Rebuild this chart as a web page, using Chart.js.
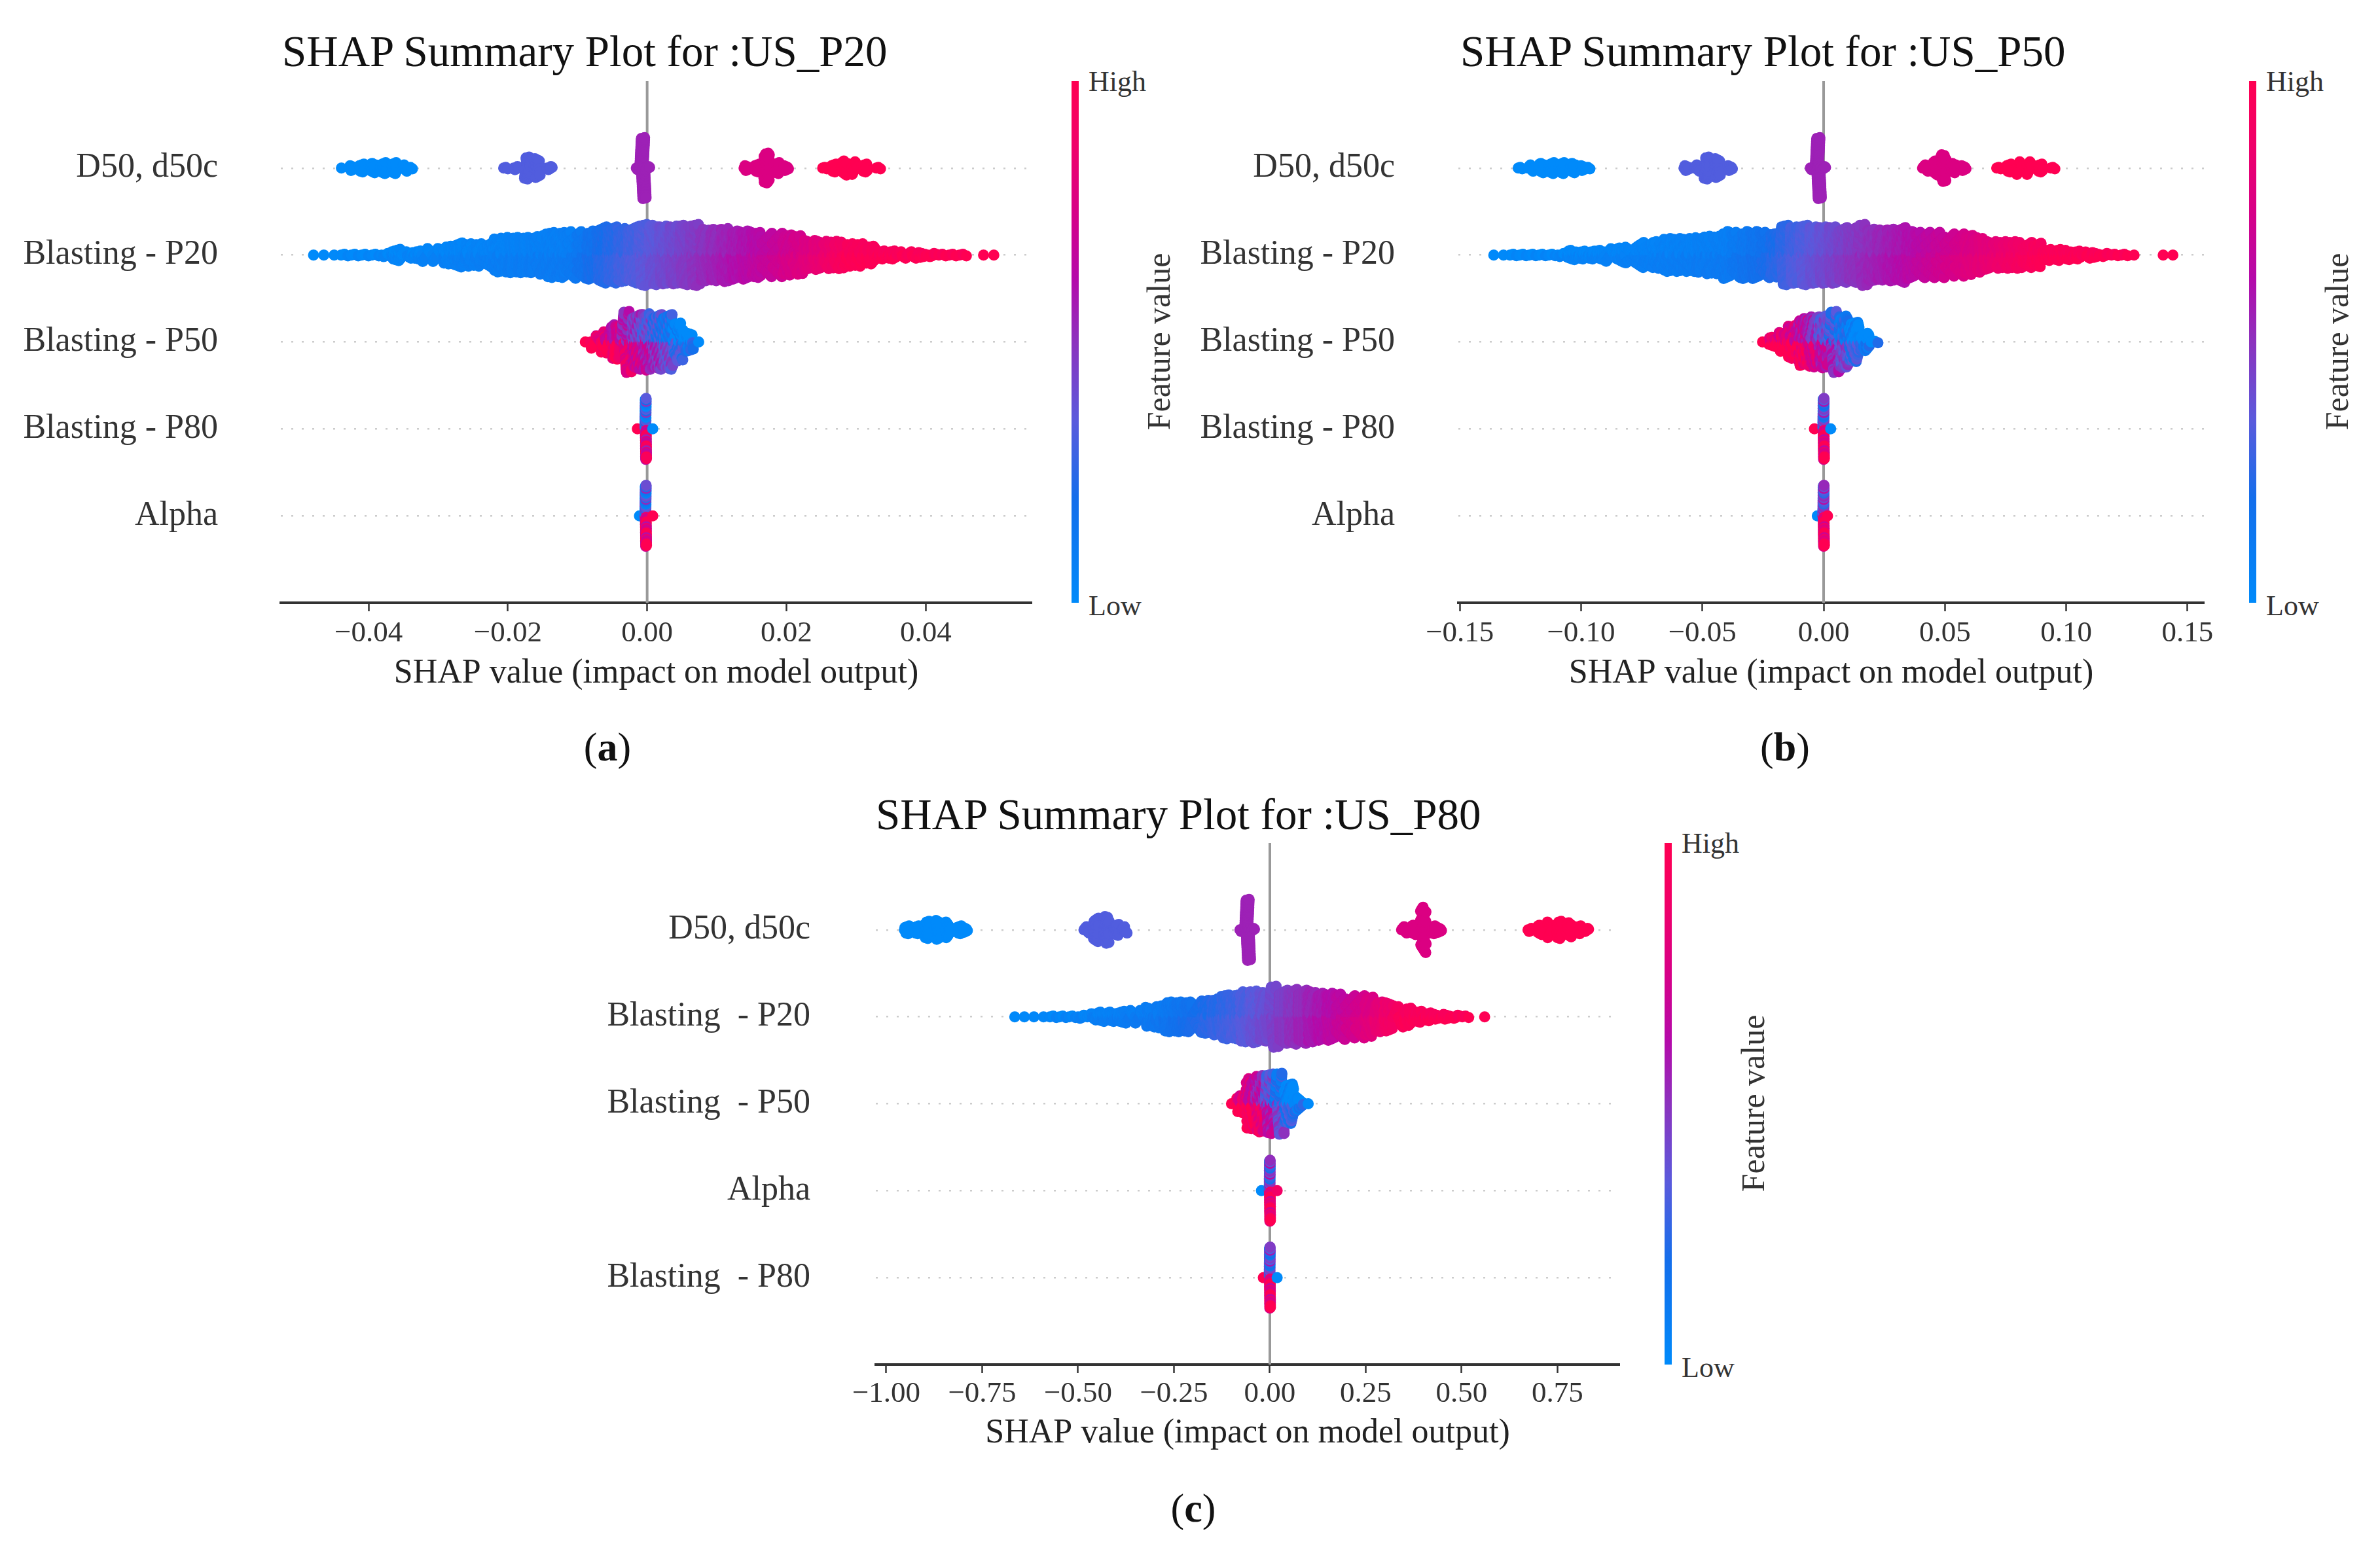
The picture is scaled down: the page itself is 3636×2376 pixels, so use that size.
<!DOCTYPE html>
<html>
<head>
<meta charset="utf-8">
<script src="https://cdn.jsdelivr.net/npm/chart.js@4.4.1/dist/chart.umd.min.js"></script>
<style>
  body { margin: 0; width: 3636px; height: 2376px; position: relative; overflow: hidden; background: #fff; font-family: "Liberation Serif", serif; }
  canvas { position: absolute; }
  .txt { position: absolute; white-space: pre; line-height: 1; color: #111; }
  .title { font-size: 67px; }
  .tag { font-size: 62px; transform: translateX(-50%); }
  .cb { position: absolute; width: 11px; height: 797px; }
  .cbl { font-size: 44px; color: #333; }
  .fv { font-size: 50px; color: #333; transform: translate(-50%, -50%) rotate(-90deg); }
</style>
</head>
<body>
<canvas id="pa" width="1600" height="1090" style="left:0px;top:0px"></canvas>
<canvas id="pb" width="1600" height="1090" style="left:1800px;top:0px"></canvas>
<canvas id="pc" width="1700" height="1090" style="left:800px;top:1160px"></canvas>

<div class="txt title" style="left:431px;top:45px">SHAP Summary Plot for :US_P20</div>
<div class="txt title" style="left:2231px;top:45px">SHAP Summary Plot for :US_P50</div>
<div class="txt title" style="left:1338px;top:1211px">SHAP Summary Plot for :US_P80</div>

<div class="txt tag" style="left:928px;top:1110px">(<b>a</b>)</div>
<div class="txt tag" style="left:2727px;top:1110px">(<b>b</b>)</div>
<div class="txt tag" style="left:1823px;top:2273px">(<b>c</b>)</div>

<div class="cb" style="left:1637px;top:124px"></div>
<div class="txt cbl" style="left:1663px;top:103px">High</div>
<div class="txt cbl" style="left:1663px;top:904px">Low</div>
<div class="txt fv" style="left:1770px;top:522px">Feature value</div>

<div class="cb" style="left:3436px;top:124px"></div>
<div class="txt cbl" style="left:3462px;top:103px">High</div>
<div class="txt cbl" style="left:3462px;top:904px">Low</div>
<div class="txt fv" style="left:3570px;top:522px">Feature value</div>

<div class="cb" style="left:2543px;top:1288px"></div>
<div class="txt cbl" style="left:2569px;top:1267px">High</div>
<div class="txt cbl" style="left:2569px;top:2068px">Low</div>
<div class="txt fv" style="left:2678px;top:1686px">Feature value</div>

<script>
// feature names and x tick values
const featuresAB = ['D50, d50c', 'Blasting - P20', 'Blasting - P50', 'Blasting - P80', 'Alpha'];
const featuresC = ['D50, d50c', 'Blasting  - P20', 'Blasting  - P50', 'Alpha', 'Blasting  - P80'];
const ticksA = [-0.04, -0.02, 0, 0.02, 0.04];
const ticksB = [-0.15, -0.10, -0.05, 0, 0.05, 0.10, 0.15];
const ticksC = [-1.0, -0.75, -0.5, -0.25, 0, 0.25, 0.5, 0.75];

// D50 has five discrete levels -> five clusters (feature value low .. high)
const d50Tone = [0, 0.33, 0.55, 0.77, 1];

// ---- panel (a) US_P20 : bin positions (SHAP) and samples per bin ----
const aD50x = [[-0.0439, -0.0424, -0.0410, -0.0394, -0.0379, -0.0364, -0.0349, -0.0340],
               [-0.0203, -0.0188, -0.0172, -0.0158, -0.0140],
               [-0.0012, -0.0006, 0.0000],
               [0.0143, 0.0158, 0.0171, 0.0186, 0.0199],
               [0.0255, 0.0268, 0.0283, 0.0298, 0.0312, 0.0332]];
const aD50n = [[1, 7, 11, 13, 15, 15, 9, 3], [3, 5, 29, 25, 5], [5, 79, 5], [7, 11, 39, 15, 7], [3, 11, 19, 17, 11, 3]];
const aP20start = -0.0479, aP20step = 0.00148;
const aP20n = [1, 1, 1, 3, 3, 3, 3, 5, 15, 9, 11, 17, 17, 23, 31, 29, 29, 33, 43, 45,
               45, 45, 49, 57, 57, 59, 59, 61, 71, 71, 67, 71, 77, 75, 73, 73, 75, 77, 65, 65,
               67, 61, 61, 57, 55, 55, 51, 49, 37, 37, 35, 35, 29, 29, 23, 11, 11, 9, 9, 7,
               5, 3, 3, 3, 0, 1, 1];
const aP20toneX = [-0.049, -0.011, -0.0074, 0.0002, 0.0078, 0.0168, 0.0238, 0.029, 0.051];
const aP20toneV = [0.0, 0.1, 0.2, 0.36, 0.5, 0.66, 0.8, 0.96, 1.0];
const aP50start = -0.00888, aP50step = 0.00148;
const aP50n = [1, 17, 29, 45, 79, 71, 73, 71, 71, 49, 25, 1];
const aP50tone = [1.0, 0.95, 0.9, 0.8, 0.7, 0.6, 0.5, 0.4, 0.3, 0.15, 0.05, 0.0];
const aP80x = [-0.0014, -0.0002, 0.0008], aP80n = [1, 79, 1], aP80tone = [1.0, 0.5, 0.0];
const aAlphax = [-0.0011, -0.0002, 0.0008], aAlphan = [1, 79, 1], aAlphatone = [0.0, 0.55, 1.0];

// ---- panel (b) US_P50 ----
const bD50x = [[-0.1251, -0.1209, -0.1164, -0.1122, -0.1080, -0.1035, -0.0993, -0.0972],
               [-0.0565, -0.0523, -0.0481, -0.0438, -0.0387],
               [-0.0045, -0.0022, -0.0002],
               [0.0419, 0.0461, 0.0493, 0.0533, 0.0576],
               [0.0722, 0.0764, 0.0807, 0.0849, 0.0891, 0.0945]];
const bD50n = [[3, 9, 13, 15, 15, 13, 7, 3], [7, 9, 29, 25, 7], [5, 79, 5], [9, 19, 35, 13, 7], [3, 11, 17, 17, 11, 3]];
const bP20start = -0.136, bP20step = 0.004;
const bP20n = [1, 1, 3, 3, 3, 3, 3, 5, 13, 11, 11, 13, 17, 19, 21, 33, 33, 35, 43, 43,
               43, 45, 49, 49, 61, 59, 61, 61, 59, 57, 77, 73, 77, 73, 73, 73, 71, 71, 79, 67,
               65, 67, 71, 61, 59, 59, 59, 55, 55, 51, 45, 37, 35, 35, 35, 33, 31, 15, 15, 13,
               11, 9, 7, 5, 3, 3, 1, 0, 0, 1, 1];
const bP20toneX = [-0.14, -0.04, -0.023, -0.011, 0.011, 0.032, 0.051, 0.072, 0.09, 0.145];
const bP20toneV = [0.0, 0.1, 0.2, 0.32, 0.48, 0.6, 0.72, 0.85, 0.97, 1.0];
const bP50start = -0.0252, bP50step = 0.0042;
const bP50n = [1, 13, 25, 43, 61, 65, 67, 79, 67, 51, 23, 3];
const bP50tone = [1.0, 1.0, 0.95, 0.88, 0.78, 0.65, 0.52, 0.42, 0.3, 0.15, 0.05, 0.0];
const bP80x = [-0.0038, 0.0000, 0.0029], bP80n = [1, 79, 1], bP80tone = [1.0, 0.6, 0.0];
const bAlphax = [-0.0026, 0.0000, 0.0016], bAlphan = [1, 79, 1], bAlphatone = [0.0, 0.65, 1.0];

// ---- panel (c) US_P80 ----
const cD50x = [[-0.946, -0.921, -0.893, -0.865, -0.838, -0.810, -0.795],
               [-0.478, -0.453, -0.426, -0.400, -0.379],
               [-0.072, -0.058, -0.046],
               [0.350, 0.375, 0.400, 0.425, 0.441],
               [0.679, 0.704, 0.730, 0.755, 0.780, 0.805, 0.825]];
const cD50n = [[11, 11, 23, 25, 21, 11, 7], [9, 31, 35, 15, 9], [5, 79, 5], [9, 13, 59, 11, 7], [5, 13, 21, 23, 19, 11, 5]];
const cP20start = -0.665, cP20step = 0.025;
const cP20n = [1, 1, 1, 1, 3, 3, 3, 5, 9, 13, 13, 15, 17, 17, 25, 29, 39, 39, 39, 41,
               43, 47, 57, 57, 65, 67, 63, 79, 69, 71, 69, 65, 61, 61, 59, 55, 55, 51, 39, 37,
               27, 23, 15, 11, 7, 7, 5, 3, 0, 1];
const cP20toneX = [-0.68, -0.29, -0.09, 0.0, 0.15, 0.27, 0.34, 0.6];
const cP20toneV = [0.0, 0.12, 0.3, 0.42, 0.62, 0.8, 0.95, 1.0];
const cP50start = -0.100, cP50step = 0.025;
const cP50n = [1, 23, 65, 73, 77, 79, 51, 21, 1];
const cP50tone = [1.0, 0.95, 0.85, 0.72, 0.5, 0.3, 0.12, 0.03, 0.0];
const cAlphax = [-0.022, 0.000, 0.019], cAlphan = [1, 79, 1], cAlphatone = [0.0, 0.65, 0.9];
const cP80x = [-0.017, 0.000, 0.019], cP80n = [1, 79, 1], cP80tone = [1.0, 0.6, 0.0];

// shap red_blue colour map
const cmapStops = [[0, [0, 138, 250]], [0.2, [20, 110, 235]], [0.35, [90, 90, 220]], [0.5, [140, 50, 190]],
                   [0.62, [180, 10, 170]], [0.75, [215, 0, 135]], [0.88, [240, 0, 105]], [1, [255, 0, 82]]];
// layer-wise mixing so overlapping samples of mixed features show different colours
const MIX = [0, 0.5, -0.5, 0.3, -0.3, 0.45, -0.45, 0.15, -0.15, 0.4, -0.4, 0.2, -0.2, 0.05];

function toneRGB(t) {
    t = Math.max(0, Math.min(1, t));
    for (let i = 1; i < cmapStops.length; i++) {
        const [t1, c1] = cmapStops[i];
        if (t <= t1) {
            const [t0, c0] = cmapStops[i - 1];
            const f = (t - t0) / (t1 - t0);
            return 'rgb(' + c0.map((c, k) => Math.round(c + (c1[k] - c) * f)).join(',') + ')';
        }
    }
    return 'rgb(255,0,82)';
}

function toneAt(xs, vs, x) {
    if (x <= xs[0]) return vs[0];
    for (let i = 1; i < xs.length; i++) {
        if (x <= xs[i]) return vs[i - 1] + (vs[i] - vs[i - 1]) * (x - xs[i - 1]) / (xs[i] - xs[i - 1]);
    }
    return vs[vs.length - 1];
}

const binsOf = (start, step, counts) => counts.map((n, i) => +(start + step * i).toFixed(5));
const clusterTones = (xs) => xs.flatMap((c, k) => c.map(() => d50Tone[k]));

// beeswarm stacking as in shap.summary_plot: 0, +1, -1, +2, -2 ... scaled to 0.9 * row height;
// samples of one bin are laid side by side across the bin width w
function addRow(out, row, r) {
    const K = Math.max(...r.n.map(n => Math.ceil((n - 1) / 2)));
    const unit = 0.36 / (K + 1);
    r.xs.forEach((x, b) => {
        const n = r.n[b];
        for (let j = 0; j < n; j++) {
            const L = (j * 83) % n;
            const off = Math.ceil(L / 2) * (L % 2 ? 1 : -1) * unit;
            out.data.push({ x: x + r.w * ((j + 0.5) / n - 0.5), y: row + off });
            out.colors.push(toneRGB(r.tone[b] + r.spread * MIX[L % MIX.length]));
        }
    });
}

function p20Row(start, step, counts, tx, tv) {
    const xs = binsOf(start, step, counts);
    return { xs: xs, n: counts, tone: xs.map(x => toneAt(tx, tv, x)), spread: 0.06, w: step };
}
function d50Row(xs, ns, w) {
    return { xs: xs.flat(), n: ns.flat(), tone: clusterTones(xs), spread: 0, w: w };
}

const panels = [
    {
        id: 'pa', labels: featuresAB, ticks: ticksA, xmin: -0.0526, xmax: 0.0552,
        left: 429, top: 124, right: 24, axisH: 169, labelPad: 96, tickPad: 7, titlePad: 29,
        rows: [
            d50Row(aD50x, aD50n, 0.0009),
            p20Row(aP20start, aP20step, aP20n, aP20toneX, aP20toneV),
            { xs: binsOf(aP50start, aP50step, aP50n), n: aP50n, tone: aP50tone, spread: 0.45, w: aP50step },
            { xs: aP80x, n: aP80n, tone: aP80tone, spread: 1.0, w: 0.0002 },
            { xs: aAlphax, n: aAlphan, tone: aAlphatone, spread: 1.0, w: 0.0002 }
        ]
    },
    {
        id: 'pb', labels: featuresAB, ticks: ticksB, xmin: -0.1506, xmax: 0.1568,
        left: 428, top: 124, right: 33, axisH: 169, labelPad: 97, tickPad: 7, titlePad: 29,
        rows: [
            d50Row(bD50x, bD50n, 0.0025),
            p20Row(bP20start, bP20step, bP20n, bP20toneX, bP20toneV),
            { xs: binsOf(bP50start, bP50step, bP50n), n: bP50n, tone: bP50tone, spread: 0.45, w: bP50step },
            { xs: bP80x, n: bP80n, tone: bP80tone, spread: 0.9, w: 0.0006 },
            { xs: bAlphax, n: bAlphan, tone: bAlphatone, spread: 0.8, w: 0.0006 }
        ]
    },
    {
        id: 'pc', labels: featuresC, ticks: ticksC, xmin: -1.0273, xmax: 0.9113,
        left: 538, top: 128, right: 26, axisH: 165, labelPad: 100, tickPad: 5, titlePad: 28,
        rows: [
            d50Row(cD50x, cD50n, 0.015),
            p20Row(cP20start, cP20step, cP20n, cP20toneX, cP20toneV),
            { xs: binsOf(cP50start, cP50step, cP50n), n: cP50n, tone: cP50tone, spread: 0.45, w: cP50step },
            { xs: cAlphax, n: cAlphan, tone: cAlphatone, spread: 0.9, w: 0.003 },
            { xs: cP80x, n: cP80n, tone: cP80tone, spread: 0.9, w: 0.003 }
        ]
    }
];

// colour bars
const grad = 'linear-gradient(to top, ' + cmapStops.map(s => 'rgb(' + s[1].join(',') + ') ' + (s[0] * 100) + '%').join(', ') + ')';
document.querySelectorAll('.cb').forEach(el => { el.style.background = grad; });

const zeroLine = {
    id: 'zeroLine',
    beforeDatasetsDraw(chart) {
        const { ctx, chartArea, scales } = chart;
        const px = scales.x.getPixelForValue(0);
        ctx.save();
        ctx.strokeStyle = '#999999';
        ctx.lineWidth = 4;
        ctx.beginPath();
        ctx.moveTo(px, chartArea.top);
        ctx.lineTo(px, chartArea.bottom);
        ctx.stroke();
        ctx.restore();
    }
};

const fmt = v => (v < 0 ? '\u2212' : '') + Math.abs(v).toFixed(2);
Chart.defaults.font.family = '"Liberation Serif", serif';

panels.forEach(p => {
    const out = { data: [], colors: [] };
    p.rows.forEach((r, i) => addRow(out, i, r));

    new Chart(document.getElementById(p.id), {
        type: 'scatter',
        data: {
            datasets: [{
                data: out.data,
                backgroundColor: out.colors,
                pointRadius: 8.5,
                pointHoverRadius: 8.5,
                borderWidth: 0,
                clip: false
            }]
        },
        options: {
            responsive: false,
            animation: false,
            devicePixelRatio: 1,
            events: [],
            layout: { padding: { left: 0, top: p.top, right: p.right, bottom: 0 } },
            plugins: { legend: { display: false }, tooltip: { enabled: false } },
            scales: {
                x: {
                    type: 'linear',
                    min: p.xmin,
                    max: p.xmax,
                    afterBuildTicks: s => { s.ticks = p.ticks.map(v => ({ value: v })); },
                    afterFit: s => { s.height = p.axisH; s.paddingLeft = 0; s.paddingRight = 0; },
                    grid: { drawOnChartArea: false, drawTicks: true, tickLength: 13, tickWidth: 2.5, tickColor: '#333333' },
                    border: { display: true, color: '#333333', width: 4 },
                    ticks: {
                        font: { size: 45 }, color: '#333333', padding: p.tickPad,
                        maxRotation: 0, autoSkip: false, callback: v => fmt(v)
                    },
                    title: {
                        display: true, text: 'SHAP value (impact on model output)',
                        font: { size: 52 }, color: '#222222', padding: { top: 0, bottom: p.titlePad }
                    }
                },
                y: {
                    type: 'linear',
                    min: -1,
                    max: 5,
                    reverse: true,
                    afterBuildTicks: s => { s.ticks = p.labels.map((_, i) => ({ value: i })); },
                    afterFit: s => { s.width = p.left; s.paddingTop = 0; s.paddingBottom = 0; },
                    grid: { color: '#cccccc', lineWidth: 2.5, drawTicks: false },
                    border: { display: false, dash: [3, 13] },
                    ticks: {
                        font: { size: 52 }, color: '#333333', padding: p.labelPad,
                        autoSkip: false, callback: v => p.labels[v]
                    }
                }
            }
        },
        plugins: [zeroLine]
    });
});
</script>
</body>
</html>
